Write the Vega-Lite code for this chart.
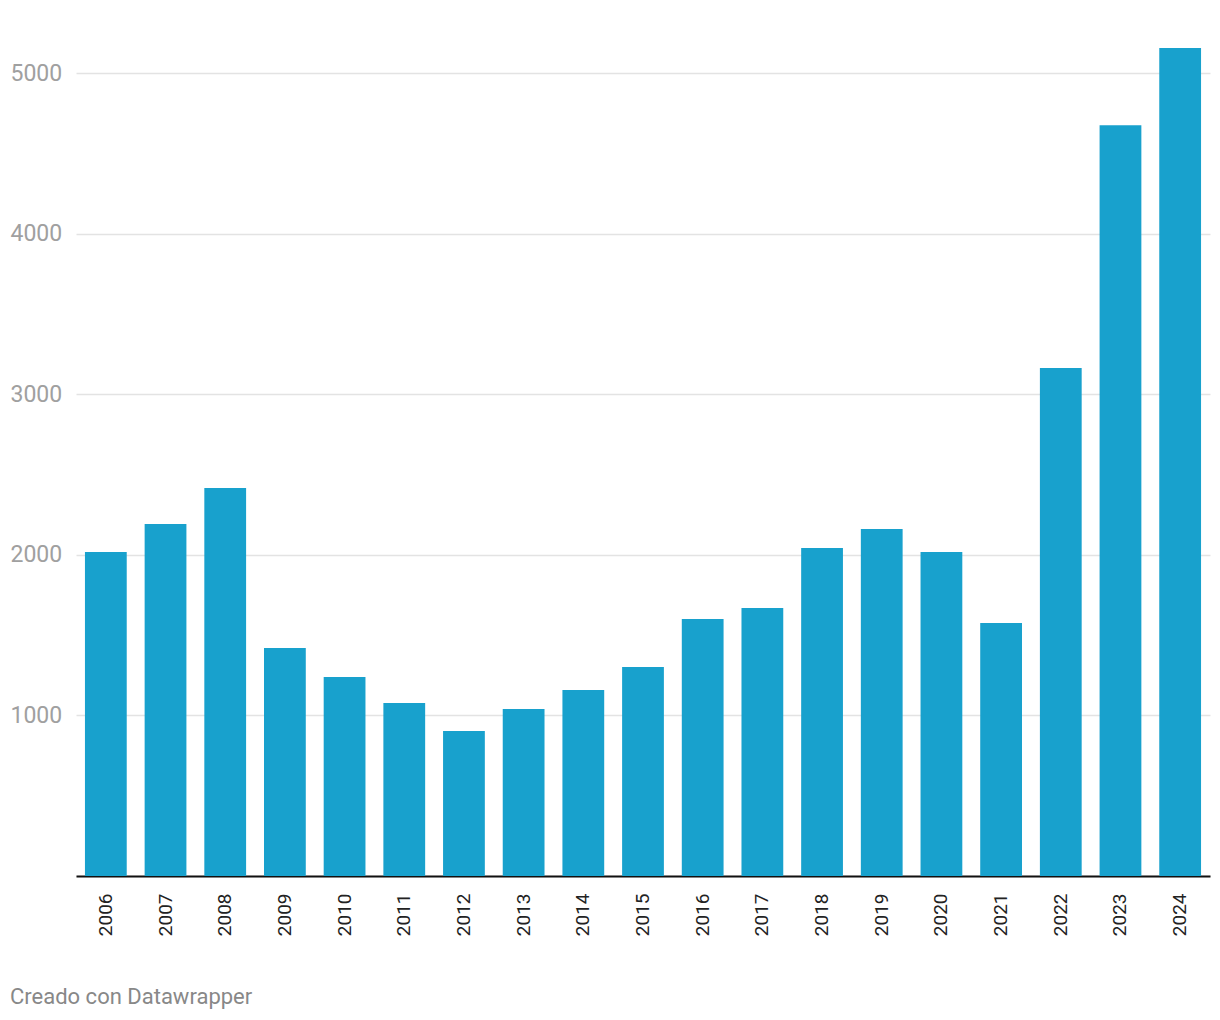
{
  "$schema": "https://vega.github.io/schema/vega-lite/v6.json",
  "width": 1134,
  "height": 835,
  "padding": {"left": 10, "top": 41, "right": 10, "bottom": 10},
  "background": "#ffffff",
  "config": {"font": "Roboto", "view": {"stroke": null}},
  "title": {"text": "Creado con Datawrapper", "orient": "bottom", "anchor": "start", "dx": 0, "offset": 51, "fontSize": 22, "fontWeight": "normal", "color": "#888888", "font": "Roboto"},
  "data": {"values": [
    {"year": "2006", "value": 2017},
    {"year": "2007", "value": 2192},
    {"year": "2008", "value": 2416},
    {"year": "2009", "value": 1420},
    {"year": "2010", "value": 1239},
    {"year": "2011", "value": 1077},
    {"year": "2012", "value": 903},
    {"year": "2013", "value": 1040},
    {"year": "2014", "value": 1158},
    {"year": "2015", "value": 1301},
    {"year": "2016", "value": 1600},
    {"year": "2017", "value": 1669},
    {"year": "2018", "value": 2042},
    {"year": "2019", "value": 2161},
    {"year": "2020", "value": 2017},
    {"year": "2021", "value": 1575},
    {"year": "2022", "value": 3163},
    {"year": "2023", "value": 4676},
    {"year": "2024", "value": 5156}
  ]},
  "mark": {"type": "bar", "color": "#18a1cd"},
  "encoding": {
    "x": {
      "field": "year", "type": "ordinal",
      "scale": {"paddingInner": 0.3, "paddingOuter": 0.15},
      "axis": {"title": null, "labelAngle": -90, "labelAlign": "right", "labelBaseline": "middle", "labelFontSize": 19, "labelColor": "#222222", "labelPadding": 17, "ticks": false, "domainColor": "#111111", "domainWidth": 2}
    },
    "y": {
      "field": "value", "type": "quantitative",
      "scale": {"domain": [0, 5200], "nice": false},
      "axis": {"title": null, "values": [0, 1000, 2000, 3000, 4000, 5000], "labelExpr": "datum.value == 0 ? '' : datum.label", "format": "d", "labelAlign": "left", "labelBaseline": "middle", "labelPadding": 66, "ticks": false, "domain": false, "labelFontSize": 23, "labelColor": "#a0a0a0", "gridColor": "#e3e3e3", "gridWidth": 1.5}
    }
  }
}
